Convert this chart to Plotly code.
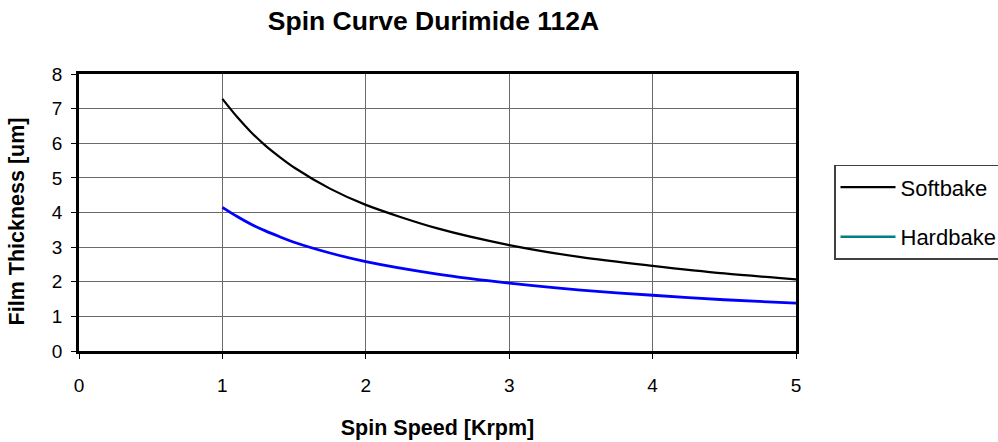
import plotly.graph_objects as go

spin_speed = [1.0, 1.1, 1.2, 1.3, 1.4, 1.5, 1.75, 2.0, 2.5, 3.0, 3.5, 4.0, 4.5, 5.0]
softbake = [7.28, 6.77, 6.32, 5.93, 5.60, 5.30, 4.69, 4.22, 3.54, 3.06, 2.71, 2.46, 2.24, 2.07]
hardbake = [4.15, 3.89, 3.66, 3.47, 3.30, 3.14, 2.83, 2.58, 2.22, 1.96, 1.76, 1.61, 1.48, 1.38]

FONT = "Liberation Sans, Arial, sans-serif"

fig = go.Figure()
fig.add_trace(go.Scatter(x=spin_speed, y=softbake, mode="lines", name="Softbake",
                         legendgroup="a",
                         line=dict(color="#000000", width=2.2, shape="spline", smoothing=0.8)))
fig.add_trace(go.Scatter(x=spin_speed, y=hardbake, mode="lines", name="Hardbake",
                         showlegend=False, legendgroup="b",
                         line=dict(color="#0000ff", width=2.8, shape="spline", smoothing=0.8)))
# legend entry for Hardbake is drawn in teal in the reference
fig.add_trace(go.Scatter(x=[None], y=[None], mode="lines", name="Hardbake",
                         legendgroup="b",
                         line=dict(color="#008080", width=2.5)))

axis_common = dict(
    showgrid=True, gridcolor="#6a6a6a", gridwidth=1,
    showline=True, linecolor="#000000", linewidth=2.5, mirror=True,
    ticks="outside", ticklen=5, tickcolor="#000000", tickwidth=1,
    zeroline=False, automargin=False,
    tickfont=dict(family=FONT, size=19, color="#000000"),
)

fig.update_layout(
    width=998, height=442,
    paper_bgcolor="#ffffff", plot_bgcolor="#ffffff",
    margin=dict(l=79, r=202, t=74, b=91, autoexpand=False),
    title=dict(text="<b>Spin Curve Durimide 112A</b>", x=0.4344, xanchor="center",
               xref="container", y=0.952, yanchor="middle", yref="container",
               font=dict(family=FONT, size=26.5, color="#000000")),
    xaxis=dict(range=[0, 5], dtick=1, **axis_common,
               ticklabelstandoff=10,
               title=dict(text="<b>Spin Speed [Krpm]</b>", standoff=26,
                          font=dict(family=FONT, size=21.5, color="#000000"))),
    yaxis=dict(range=[0, 8], dtick=1, **axis_common,
               ticklabelstandoff=5,
               title=dict(text="<b>Film Thickness [um]</b>&nbsp;&nbsp;&nbsp;", standoff=22,
                          font=dict(family=FONT, size=21.5, color="#000000"))),
    legend=dict(x=1.053, xanchor="left", y=0.672, yanchor="top",
                bordercolor="#404040", borderwidth=1.5, bgcolor="#ffffff",
                font=dict(family=FONT, size=22, color="#000000"),
                traceorder="grouped", tracegroupgap=18, itemwidth=55,
                entrywidth=180),
    showlegend=True,
)

fig.write_html("out.html", config={"displayModeBar": False},
               post_script="document.body.style.margin='0';")
